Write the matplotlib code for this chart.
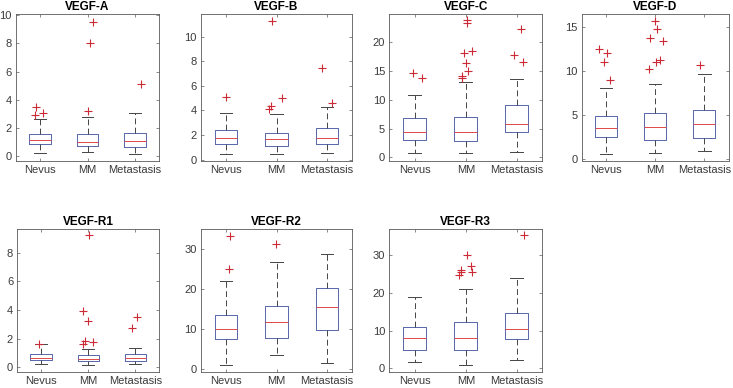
import matplotlib
matplotlib.use("Agg")
import matplotlib.pyplot as plt
import numpy as np

plt.rcParams['font.family'] = ['Liberation Sans', 'DejaVu Sans']

categories = ['Nevus', 'MM', 'Metastasis']
titles = ['VEGF-A', 'VEGF-B', 'VEGF-C', 'VEGF-D', 'VEGF-R1', 'VEGF-R2', 'VEGF-R3']

# rows: whisker low, Q1, median, Q3, whisker high ; columns: Nevus, MM, Metastasis
VEGF_A_STATS = [[0.24, 0.28, 0.16], [0.85, 0.73, 0.68], [1.18, 1.04, 1.10], [1.58, 1.55, 1.65], [2.64, 2.78, 3.10]]
VEGF_A_FLIERS = [[3.46, 2.94, 3.04], [3.22, 8.05, 9.53], [5.10]]
VEGF_A_JITTER = [[-0.08, -0.10, 0.07], [0.00, 0.05, 0.11], [0.12]]

VEGF_B_STATS = [[0.46, 0.46, 0.54], [1.27, 1.08, 1.27], [1.78, 1.70, 1.78], [2.41, 2.16, 2.57], [3.78, 3.70, 4.24]]
VEGF_B_FLIERS = [[5.08], [4.11, 4.38, 5.03, 11.24], [7.41, 4.57]]
VEGF_B_JITTER = [[0.01], [-0.14, -0.10, 0.10, -0.08], [-0.09, 0.09]]

VEGF_C_STATS = [[0.75, 0.80, 0.86], [2.98, 2.76, 4.36], [4.42, 4.36, 5.86], [6.83, 7.00, 9.18], [10.85, 13.09, 13.66]]
VEGF_C_FLIERS = [[14.64, 13.83], [13.7, 14.2, 15.0, 16.4, 18.1, 18.4, 23.4, 23.8], [17.7, 16.6, 22.3]]
VEGF_C_JITTER = [[-0.04, 0.14], [-0.08, -0.07, 0.04, 0.00, -0.04, 0.12, 0.03, 0.03], [-0.06, 0.13, 0.08]]

VEGF_D_STATS = [[0.57, 0.68, 0.87], [2.53, 2.12, 2.38], [3.55, 3.66, 3.97], [4.84, 5.25, 5.52], [8.12, 8.50, 9.60]]
VEGF_D_FLIERS = [[12.47, 12.09, 11.07, 8.99], [15.72, 14.73, 13.71, 13.41, 10.20, 10.99, 11.20], [10.73]]
VEGF_D_JITTER = [[-0.14, 0.02, -0.04, 0.07], [0.00, 0.03, -0.10, 0.15, -0.12, 0.01, 0.10], [-0.10]]

VEGF_R1_STATS = [[0.21, 0.16, 0.23], [0.49, 0.42, 0.47], [0.67, 0.60, 0.67], [0.93, 0.88, 0.91], [1.60, 1.30, 1.37]]
VEGF_R1_FLIERS = [[1.60], [9.23, 3.90, 3.23, 1.63, 1.86, 1.79], [2.77, 3.51]]
VEGF_R1_JITTER = [[-0.04], [0.02, -0.11, 0.00, -0.11, -0.06, 0.10], [-0.07, 0.04]]

VEGF_R2_STATS = [[1.16, 3.48, 1.49], [7.46, 7.79, 9.69], [9.94, 11.68, 15.6], [13.6, 15.8, 20.3], [22.0, 26.7, 28.6]]
VEGF_R2_FLIERS = [[33.2, 25.0], [31.1], []]
VEGF_R2_JITTER = [[0.07, 0.06], [-0.01], []]

VEGF_R3_STATS = [[1.77, 0.88, 2.20], [4.77, 4.77, 7.68], [7.94, 7.94, 10.4], [11.0, 12.36, 14.7], [19.0, 21.1, 23.8]]
VEGF_R3_FLIERS = [[], [24.7, 25.4, 26.1, 29.9, 27.0, 25.6], [35.3]]
VEGF_R3_JITTER = [[], [-0.14, -0.10, -0.09, 0.02, 0.11, 0.13], [0.14]]

all_stats = [VEGF_A_STATS, VEGF_B_STATS, VEGF_C_STATS, VEGF_D_STATS, VEGF_R1_STATS, VEGF_R2_STATS, VEGF_R3_STATS]
all_fliers = [VEGF_A_FLIERS, VEGF_B_FLIERS, VEGF_C_FLIERS, VEGF_D_FLIERS, VEGF_R1_FLIERS, VEGF_R2_FLIERS, VEGF_R3_FLIERS]
all_jitter = [VEGF_A_JITTER, VEGF_B_JITTER, VEGF_C_JITTER, VEGF_D_JITTER, VEGF_R1_JITTER, VEGF_R2_JITTER, VEGF_R3_JITTER]

ylims = [(-0.33, 10.07), (-0.11, 11.84), (-0.63, 24.9), (-0.23, 16.47), (-0.3, 9.65), (-0.58, 34.9), (-0.88, 36.9)]
yticks = [np.arange(0, 11, 2), np.arange(0, 11, 2), np.arange(0, 21, 5), np.arange(0, 16, 5),
          np.arange(0, 9, 2), np.arange(0, 31, 10), np.arange(0, 31, 10)]

# axes boxes in pixels: left, right, top, bottom
W, H = 733, 388
boxes = [(16, 159, 14, 161), (200.7, 352.3, 14, 161), (389.3, 542.3, 14, 161), (581.7, 729, 14, 161),
         (17.3, 159, 229, 371.7), (200.7, 352.3, 229, 371.7), (389.3, 542.3, 229, 371.7)]

fig = plt.figure(figsize=(W / 100, H / 100), dpi=100)
BLUE = '#5566aa'
RED = '#e04848'
FLIER = '#cc2a36'
WHISK = '#444444'
AX = '#5a5a5a'

for i in range(7):
    l, r, t, b = boxes[i]
    ax = fig.add_axes([l / W, 1 - b / H, (r - l) / W, (b - t) / H])
    st = all_stats[i]
    stats = []
    for j in range(3):
        stats.append(dict(whislo=st[0][j], q1=st[1][j], med=st[2][j], q3=st[3][j], whishi=st[4][j], fliers=[]))
    ax.bxp(stats, positions=[1, 2, 3], widths=0.45, showfliers=False, capwidths=0.25,
           boxprops=dict(color=BLUE, lw=0.7),
           medianprops=dict(color=RED, lw=0.7),
           whiskerprops=dict(color=WHISK, lw=0.7, linestyle=(0, (6, 3.5))),
           capprops=dict(color=WHISK, lw=0.7))
    for j in range(3):
        vals = all_fliers[i][j]
        if len(vals):
            xs = (j + 1) + np.array(all_jitter[i][j])
            ax.plot(xs, vals, '+', color=FLIER, ms=5.5, mew=0.8, linestyle='none')
    ax.set_xlim(0.5, 3.5)
    ax.set_ylim(*ylims[i])
    ax.set_yticks(yticks[i])
    ax.set_xticks([1, 2, 3])
    ax.set_xticklabels(categories)
    ax.tick_params(direction='in', length=2.5, width=0.5, top=True, right=True,
                   colors=AX, labelsize=8, labelcolor='#3a3a3a', pad=3)
    for s in ax.spines.values():
        s.set_color(AX)
        s.set_linewidth(0.6)
    ax.set_title(titles[i], fontsize=8.5, fontweight='bold', color='black', pad=3)

fig.savefig('out.png', dpi=100)
